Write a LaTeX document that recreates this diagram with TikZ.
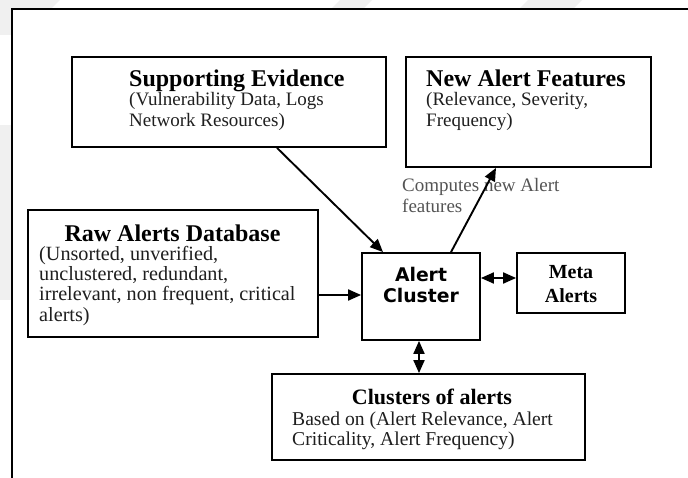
\documentclass[tikz,border=0pt]{standalone}
\usepackage{fontspec}
\setmainfont{Liberation Serif}
\newfontfamily\boxsans{DejaVu Sans}
\usetikzlibrary{arrows.meta}
\definecolor{wmark}{gray}{0.94}
\definecolor{notegray}{gray}{0.33}

\begin{document}
\begin{tikzpicture}[x=1pt,y=-1pt,
  >={Triangle[length=13pt,width=11pt]},
  box/.style={draw=black,line width=1.8pt,rectangle,inner sep=0pt},
  ttl/.style={inner sep=0pt,font=\fontsize{24}{24}\selectfont\bfseries},
  txt/.style={inner sep=0pt,anchor=base west,font=\fontsize{#1}{#1}\selectfont,text=black!88},
  txt/.default=19,
  note/.style={inner sep=0pt,anchor=base west,font=\fontsize{19}{19}\selectfont,text=notegray},
  conn/.style={line width=1.9pt,->},
  conn2/.style={line width=1.9pt,<->}]

\useasboundingbox (0,0) rectangle (688,478);
\fill[white] (0,0) rectangle (688,478);

% faint background marks outside the frame
\fill[wmark] (0,0) rectangle (11,35);
\fill[wmark] (0,125) rectangle (11,300);
\fill[wmark] (0,0) -- (60,0) -- (52,8) -- (0,8) -- cycle;
\fill[wmark] (340,0) -- (372,0) -- (364,8) -- (332,8) -- cycle;
\fill[wmark] (528,0) -- (582,0) -- (574,8) -- (520,8) -- cycle;

% frame
\draw[line width=2pt] (12,478) -- (12,9) -- (688,9);

% boxes
\node[box,minimum width=314pt,minimum height=90pt] (supbox) at (229,102) {};
\node[box,minimum width=245pt,minimum height=110pt] (newbox) at (528.5,112) {};
\node[box,minimum width=290pt,minimum height=127pt] (rawbox) at (173,273.5) {};
\node[box,minimum width=118pt,minimum height=87pt] (clubox) at (421,296.5) {};
\node[box,minimum width=108pt,minimum height=60pt] (metabox) at (571,283) {};
\node[box,minimum width=313pt,minimum height=86pt] (grpbox) at (428.5,417) {};

% Supporting Evidence
\node[ttl,anchor=base west] (supt) at (129,87) {Supporting Evidence};
\node[txt] (sup1) at (129,106) {(Vulnerability Data, Logs};
\node[txt] (sup2) at (129,127) {Network Resources)};

% New Alert Features
\node[ttl,anchor=base west] (newt) at (426,87) {New Alert Features};
\node[txt] (new1) at (426,106) {(Relevance, Severity,};
\node[txt] (new2) at (426,127) {Frequency)};

% Raw Alerts Database
\node[ttl,anchor=base] (rawt) at (172.5,242) {Raw Alerts Database};
\node[txt=20.2] (raw1) at (39,261) {(Unsorted, unverified,};
\node[txt=20.2] (raw2) at (39,281) {unclustered, redundant,};
\node[txt=20.2] (raw3) at (39,301) {irrelevant, non frequent, critical};
\node[txt=20.2] (raw4) at (39,321) {alerts)};

% Alert Cluster
\node[inner sep=0pt,anchor=base,font=\boxsans\fontsize{18.8}{18.8}\selectfont\bfseries] (clu1) at (421,282) {Alert};
\node[inner sep=0pt,anchor=base,font=\boxsans\fontsize{18.8}{18.8}\selectfont\bfseries] (clu2) at (421,303) {Cluster};

% Meta Alerts
\node[inner sep=0pt,anchor=base,font=\fontsize{20}{20}\selectfont\bfseries] (met1) at (571,279) {Meta};
\node[inner sep=0pt,anchor=base,font=\fontsize{20}{20}\selectfont\bfseries] (met2) at (571,302) {Alerts};

% Clusters of alerts
\node[inner sep=0pt,anchor=base,font=\fontsize{22}{22}\selectfont\bfseries] (grpt) at (432,404) {Clusters of alerts};
\node[txt=19.6] (grp1) at (292,425) {Based on (Alert Relevance, Alert};
\node[txt=19.6] (grp2) at (292,445) {Criticality, Alert Frequency)};

% label of the feature arrow
\node[note] (lab1) at (402,192) {Computes new Alert};
\node[note] (lab2) at (402,213) {features};

% connectors
\draw[conn] ([xshift=48pt]supbox.south) -- ([xshift=-38pt]clubox.north);
\draw[conn] ([xshift=30pt]clubox.north) -- ([xshift=-32.5pt]newbox.south);
\draw[conn] ([yshift=-21.5pt]rawbox.east) -- ([yshift=1.5pt]clubox.west);
\draw[conn2] ([yshift=18.5pt]clubox.east) -- ([yshift=18.5pt]clubox.east -| metabox.west);
\draw[conn2] ([xshift=-2pt]clubox.south) -- ([xshift=-2pt]clubox.south |- grpbox.north);
\end{tikzpicture}
\end{document}
